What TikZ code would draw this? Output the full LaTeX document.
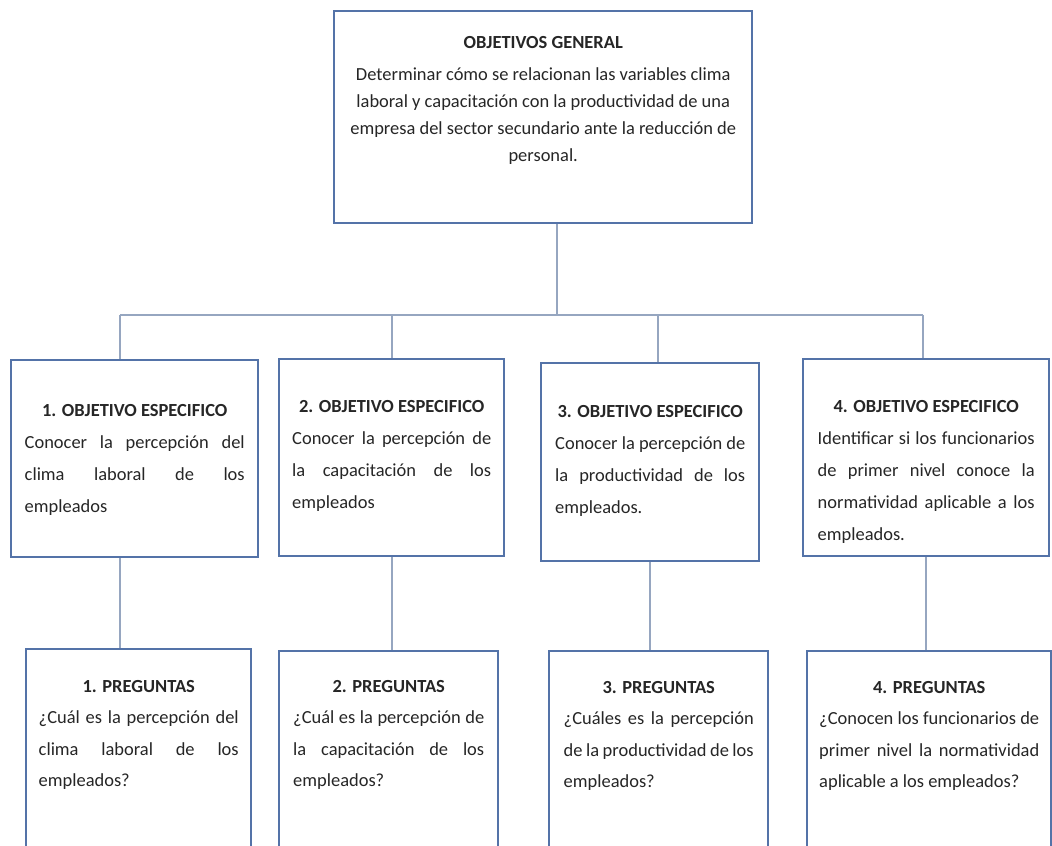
\documentclass[tikz,border=0pt]{standalone}
\usepackage{fontspec}
\setmainfont{Carlito}

\definecolor{borde}{RGB}{84,115,168}
\definecolor{linea}{RGB}{150,166,192}
\definecolor{letra}{RGB}{38,38,38}

% renglon justificado y titulo centrado
\newcommand{\renglon}[1]{\makebox[\linewidth][s]{#1}}
\newcommand{\titulo}[1]{\makebox[\linewidth][c]{\textbf{#1}}}

\begin{document}
\begin{tikzpicture}[
    caja/.style={draw=borde, line width=1.4pt, fill=white, inner sep=0pt, anchor=north west, text=letra},
    fila1/.style={caja, font=\fontsize{10.5}{18.2}\selectfont},
    fila2/.style={caja, font=\fontsize{10.5}{17.9}\selectfont},
    enlace/.style={draw=linea, line width=1.1pt}
  ]
    \useasboundingbox[fill=white] (0,0) rectangle (21.04,-16.92);

    % Objetivo general
    \node[caja, minimum width=8.36cm, font=\fontsize{10.5}{15.4}\selectfont] (gen) at (6.66,-0.20)
      {\parbox[c][4.24cm][t]{7.8cm}{\centering\vspace*{0.50cm}\textbf{OBJETIVOS GENERAL}\\[3pt]
        Determinar cómo se relacionan las variables clima\\
        laboral y capacitación con la productividad de una\\
        empresa del sector secundario ante la reducción de\\
        personal.}};

    % Objetivos especificos
    \node[fila1, minimum width=4.94cm] (oe1) at (0.20,-7.18)
      {\parbox[c][3.94cm][t]{4.40cm}{\vspace*{0.88cm}\titulo{1. OBJETIVO ESPECIFICO}\\
        \renglon{Conocer la percepción del}\\
        \renglon{clima laboral de los}\\
        empleados}};
    \node[fila1, minimum width=4.50cm] (oe2) at (5.56,-7.16)
      {\parbox[c][3.94cm][t]{3.98cm}{\vspace*{0.82cm}\titulo{2. OBJETIVO ESPECIFICO}\\
        \renglon{Conocer la percepción de}\\
        \renglon{la capacitación de los}\\
        empleados}};
    \node[fila1, minimum width=4.36cm] (oe3) at (10.80,-7.24)
      {\parbox[c][3.96cm][t]{3.80cm}{\vspace*{0.84cm}\titulo{3. OBJETIVO ESPECIFICO}\\
        \renglon{Conocer la percepción de}\\
        \renglon{la productividad de los}\\
        empleados.}};
    \node[fila1, minimum width=4.92cm] (oe4) at (16.04,-7.16)
      {\parbox[c][3.94cm][t]{4.34cm}{\vspace*{0.82cm}\titulo{4. OBJETIVO ESPECIFICO}\\
        \renglon{Identificar si los funcionarios}\\
        \renglon{de primer nivel conoce la}\\
        \renglon{normatividad aplicable a los}\\
        empleados.}};

    % Preguntas
    \node[fila2, minimum width=4.50cm] (p1) at (0.50,-12.96)
      {\parbox[c][3.96cm][t]{4.00cm}{\vspace*{0.62cm}\titulo{1. PREGUNTAS}\\
        \renglon{¿Cuál es la percepción del}\\
        \renglon{clima laboral de los}\\
        empleados?}};
    \node[fila2, minimum width=4.38cm] (p2) at (5.56,-13.00)
      {\parbox[c][3.92cm][t]{3.82cm}{\vspace*{0.58cm}\titulo{2. PREGUNTAS}\\
        \renglon{¿Cuál es la percepción de}\\
        \renglon{la capacitación de los}\\
        empleados?}};
    \node[fila2, minimum width=4.38cm] (p3) at (10.96,-13.00)
      {\parbox[c][3.92cm][t]{3.80cm}{\vspace*{0.60cm}\titulo{3. PREGUNTAS}\\
        \renglon{¿Cuáles es la percepción}\\
        \renglon{de la productividad de los}\\
        empleados?}};
    \node[fila2, minimum width=4.88cm] (p4) at (16.12,-13.00)
      {\parbox[c][3.92cm][t]{4.40cm}{\vspace*{0.60cm}\titulo{4. PREGUNTAS}\\
        \renglon{¿Conocen los funcionarios de}\\
        \renglon{primer nivel la normatividad}\\
        aplicable a los empleados?}};

    % Conectores
    \coordinate (tronco) at (11.14,-6.30);
    \coordinate (b1) at (2.40,-6.30);
    \coordinate (b2) at (7.84,-6.30);
    \coordinate (b3) at (13.16,-6.30);
    \coordinate (b4) at (18.46,-6.30);
    \draw[enlace] (gen.south -| tronco) -- (tronco);
    \draw[enlace] (b1) -- (b4);
    \foreach \i in {1,2,3,4}
        \draw[enlace] (b\i) -- (b\i |- oe\i.north);
    \draw[enlace] (oe1.south -| b1) -- (p1.north -| b1);
    \draw[enlace] (oe2.south -| b2) -- (p2.north -| b2);
    \draw[enlace] (oe3.south) -- (oe3.south |- p3.north);
    \draw[enlace] (oe4.south) -- (oe4.south |- p4.north);
\end{tikzpicture}
\end{document}
